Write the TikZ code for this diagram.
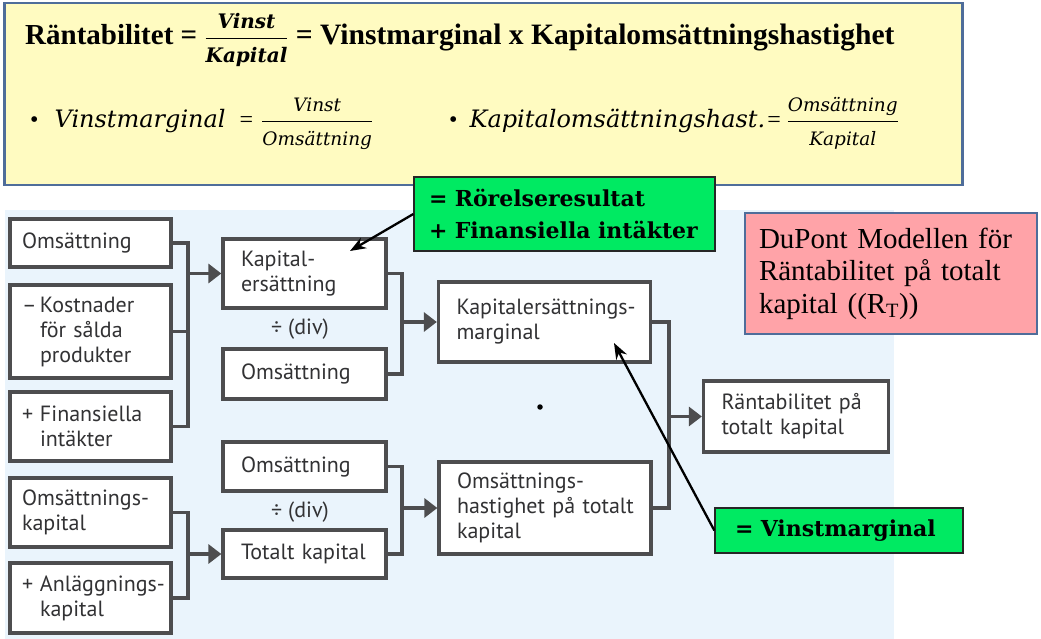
\documentclass[tikz,border=0pt]{standalone}
\usepackage{amsmath}
\usepackage{fontspec}
\setmainfont{Liberation Serif}
\newfontfamily\boxfont{PT Sans}
\newfontfamily\djs{DejaVu Serif}
\usetikzlibrary{arrows.meta}
\definecolor{yellowbg}{RGB}{255,251,193}
\definecolor{framebl}{RGB}{79,109,154}
\definecolor{bluebg}{RGB}{234,244,252}
\definecolor{boxgray}{RGB}{77,77,79}
\definecolor{txtgray}{RGB}{50,50,52}
\definecolor{gbright}{RGB}{0,234,98}
\definecolor{pinkbg}{RGB}{255,163,168}
\tikzset{
  dbox/.style={draw=boxgray, line width=3.3pt, fill=white, align=left,
    font=\boxfont\fontsize{22}{25}\selectfont, text=txtgray, inner ysep=0pt},
  colA/.style={dbox, inner xsep=12pt, text width=137pt, minimum height=#1},
  colB/.style={dbox, inner xsep=18pt, text width=127pt, minimum height=#1},
  colC/.style={dbox, inner xsep=18pt, text width=176pt, minimum height=#1},
  colD/.style={dbox, inner xsep=18pt, text width=149pt, minimum height=#1},
  conn/.style={draw=boxgray, line width=3.3pt},
  arr/.style={conn, -{Triangle[length=13pt,width=19pt]}},
  callout/.style={draw=black, line width=2.3pt, -{Stealth[length=16pt,width=12pt]}},
  gbox/.style={draw=black!85, line width=1.3pt, fill=gbright, align=left,
    font=\djs\bfseries\fontsize{22}{32}\selectfont, text=black},
  divlabel/.style={font=\boxfont\fontsize{22}{25}\selectfont, text=txtgray, inner sep=0pt},
}
\newcommand{\hang}{\hspace*{18pt}}
\newcommand{\tfr}{\djs\bfseries\itshape\fontsize{20}{24}\selectfont}
\newcommand{\sfr}{\djs\itshape\fontsize{18.5}{22}\selectfont}
\begin{document}
\begin{tikzpicture}[x=1pt,y=-1pt]
\useasboundingbox (0,0) rectangle (1041,639);
\fill[white] (0,0) rectangle (1041,639);
% backgrounds
\fill[bluebg] (5,210) rectangle (894,639);
\node[draw=framebl, line width=2.4pt, fill=yellowbg, minimum width=958pt, minimum height=182pt, inner sep=0pt] (top) at (483.5,94) {};
% title
\node[anchor=base west, inner sep=0pt, font=\fontsize{29}{34}\selectfont\bfseries] (title) at (25,45)
  {Räntabilitet = $\displaystyle\frac{\mbox{\tfr Vinst}}{\mbox{\tfr Kapital}}$ \fontsize{29.6}{34}\selectfont= Vinstmarginal x Kapitalomsättningshastighet};
\node[anchor=base west, inner sep=0pt, font=\fontsize{24}{28}\selectfont] (vm) at (30,128)
  {•\hspace{16pt}{\djs\itshape Vinstmarginal}\hspace{14pt}= \hspace{2pt}$\displaystyle\frac{\mbox{\sfr Vinst}}{\mbox{\sfr Omsättning}}$};
\node[anchor=base west, inner sep=0pt, font=\fontsize{24}{28}\selectfont] (kh) at (449,128)
  {•\hspace{12pt}{\djs\itshape Kapitalomsättningshast.}\hspace{2pt}= $\displaystyle\frac{\mbox{\sfr Omsättning}}{\mbox{\sfr Kapital}}$};
% column A
\node[colA=48pt] (o1) at (90.5,243) {Omsättning};
\node[colA=93pt] (kost) at (90.5,331.5) {\makebox[18pt][l]{–}Kostnader\\\hang för sålda\\\hang produkter};
\node[colA=69pt] (fin) at (90.5,426.5) {\makebox[18pt][l]{+}Finansiella\\\hang intäkter};
\node[colA=69pt] (okap) at (90.5,512.5) {\mbox{Omsättnings-}\\kapital};
\node[colA=70pt] (anl) at (90.5,598) {\mbox{\makebox[18pt][l]{+}Anläggnings-}\\\hang kapital};
% column B
\node[colB=69pt] (kers) at (304.5,273.5) {Kapital-\\ersättning};
\node[divlabel] (div1) at (300,329) {÷ (div)};
\node[colB=50pt] (o2) at (304.5,374) {Omsättning};
\node[colB=49pt] (o3) at (304.5,466.5) {Omsättning};
\node[divlabel] (div2) at (300,512) {÷ (div)};
\node[colB=48pt] (tot) at (304.5,554) {\mbox{Totalt kapital}};
% column C
\node[colC=80pt] (kmarg) at (544.5,322) {\mbox{Kapitalersättnings-}\\marginal};
\node[colC=92pt] (ohast) at (545,508) {\mbox{Omsättnings-}\\\mbox{hastighet på totalt}\\kapital};
% column D
\node[colD=71pt] (rt) at (796,416.5) {Räntabilitet på\\totalt kapital};
% bus coordinates
\coordinate (bus1) at (188,0);
\coordinate (bus2) at (402,0);
\coordinate (bus3) at (669,0);
% connectors group 1
\draw[conn] (o1.east) -- (o1.east -| bus1) -- (fin.east -| bus1) -- (fin.east);
\draw[conn] (kost.east) -- (kost.east -| bus1);
\draw[arr] (kers.west -| bus1) -- (kers.west);
% group 2
\draw[conn] (okap.east) -- (okap.east -| bus1) -- (anl.east -| bus1) -- (anl.east);
\draw[arr] (tot.west -| bus1) -- (tot.west);
% group 3
\draw[conn] (kers.east) -- (kers.east -| bus2) -- (o2.east -| bus2) -- (o2.east);
\draw[arr] (kmarg.west -| bus2) -- (kmarg.west);
% group 4
\draw[conn] (o3.east) -- (o3.east -| bus2) -- (tot.east -| bus2) -- (tot.east);
\draw[arr] (ohast.west -| bus2) -- (ohast.west);
% group 5
\draw[conn] (kmarg.east) -- (kmarg.east -| bus3) -- (ohast.east -| bus3) -- (ohast.east);
\draw[arr] (rt.west -| bus3) -- (rt.west);
% dot
\node[circle, fill=black, inner sep=0pt, minimum size=5.5pt] (dot) at (540,407) {};
% pink box
\node[draw=framebl, line width=1.2pt, fill=pinkbg, minimum width=292pt, minimum height=121pt,
  inner xsep=14pt, text width=264pt, align=left, font=\fontsize{29}{32.5}\selectfont, text=black] (dupont) at (891,273.5)
  {DuPont Modellen för\\Räntabilitet på totalt\\kapital ((R\textsubscript{T}))};
% green boxes
\node[gbox, minimum width=301pt, minimum height=74pt, inner xsep=15pt, text width=271pt] (g1) at (564.5,214)
  {= Rörelseresultat\\+ Finansiella intäkter};
\node[gbox, minimum width=248pt, minimum height=45pt, inner xsep=20pt, text width=208pt] (g2) at (839,530.5)
  {= Vinstmarginal};
% callouts
\coordinate (t1) at (350,251);
\coordinate (t2) at (614,343);
\draw[callout] (g1.west) -- (t1);
\draw[callout] (g2.west) -- (t2);
\end{tikzpicture}
\end{document}
